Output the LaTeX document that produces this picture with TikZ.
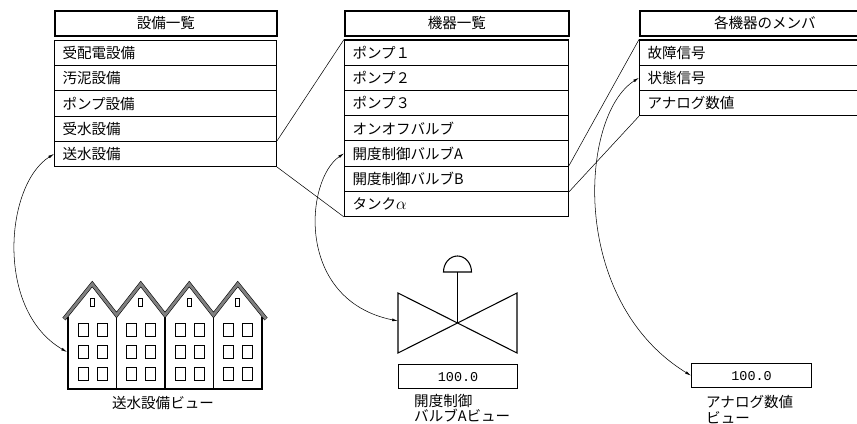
\documentclass[tikz,border=0pt]{standalone}
\usepackage{fontspec}
\setmainfont{Noto Sans CJK JP}
\newfontfamily\monofont{Liberation Mono}
\usetikzlibrary{arrows.meta}

\begin{document}
\begin{tikzpicture}[x=0.03cm,y=-0.03cm,
  every node/.style={font=\fontsize{12.4}{15}\selectfont,inner sep=0pt},
  hdr/.style={draw,line width=1.5pt,anchor=north west,minimum width=#1,minimum height=.75cm},
  row/.style={draw,line width=.9pt,anchor=north west,minimum height=.756cm,inner xsep=.24cm,text width=#1,align=left},
  link/.style={line width=.45pt},
  jump/.style={line width=.45pt,<->,>={Latex[length=5pt,width=2.4pt]}},
  valbox/.style={draw,line width=1pt,anchor=north west,minimum width=#1,minimum height=.72cm,font=\monofont\fontsize{11.5}{13}\selectfont},
  roof/.style={draw=black,line width=.5pt,double=black!50,double distance=2.4pt}]
\useasboundingbox (0,0) rectangle (857,424);
\clip (0,0) rectangle (857,424);

% three lists: plants, devices, members
\node[hdr=6.66cm] (eqhdr) at (54,10) {設備一覧};
\foreach \t [count=\i] in {受配電設備,汚泥設備,ポンプ設備,受水設備,送水設備}
  \node[row=6.18cm] (eq\i) at (54,{40+25.2*(\i-1)}) {\t};
\node[hdr=6.72cm] (devhdr) at (344,10) {機器一覧};
\foreach \t [count=\i] in {ポンプ１,ポンプ２,ポンプ３,オンオフバルブ,開度制御バルブA,開度制御バルブB,タンク{\fontsize{15}{15}\selectfont$\alpha$}}
  \node[row=6.24cm] (dev\i) at (344,{39.5+25.2*(\i-1)}) {\t};
\node[hdr=7.5cm] (memhdr) at (639,10) {各機器のメンバ};
\foreach \t [count=\i] in {故障信号,状態信号,アナログ数値}
  \node[row=7.02cm] (mem\i) at (639,{39.5+25.2*(\i-1)}) {\t};

% expansion lines
\draw[link] (eq5.north east) -- (dev1.north west);
\draw[link] (eq5.south east) -- (dev7.south west);
\draw[link] (dev6.north east) -- (mem1.north west);
\draw[link] (dev6.south east) -- (mem3.south west);

% building: four gabled houses
\foreach \i in {0,...,3} {
  \pgfmathsetmacro{\xl}{68+48.5*\i}
  \pgfmathsetmacro{\xm}{\xl+24.25}
  \draw[line width=.6pt] (\xm-2,298) rectangle +(4,8);
  \foreach \wy in {323,345,367} {
    \draw[line width=.6pt] (\xl+10,\wy) rectangle +(10,13);
    \draw[line width=.6pt] (\xl+29,\wy) rectangle +(10,13);
  }
}
\draw[line width=1pt] (68,317) -- (68,389) -- (262,389) -- (262,317);
\foreach \x in {116.5,165,213.5} \draw[line width=1pt] (\x,313) -- (\x,389);
\draw[roof] (64,319) -- (92.25,284) -- (116.5,315) -- (140.75,284) -- (165,315)
  -- (189.25,284) -- (213.5,315) -- (237.75,284) -- (266,319);
\coordinate (bldg) at (67,352);
\node (blbl) at (163,403) {送水設備ビュー};

% control valve with actuator dome
\draw[line width=.9pt] (398,293) -- (398,353) -- (517,293) -- (517,353) -- cycle;
\draw[line width=.9pt] (457.5,323) -- (457.5,272);
\draw[line width=.9pt] (443.5,272) arc[start angle=180,end angle=0,x radius=.42cm,y radius=.48cm] -- cycle;
\coordinate (valve) at (398,321);
\node[valbox=3.57cm] (vbox) at (398,364) {100.0};
\node[anchor=north west,align=left,font=\fontsize{12.4}{13}\selectfont] (vlbl) at (414,394) {開度制御\\バルブAビュー};

% analog value readout
\node[valbox=3.6cm] (abox) at (691,363) {100.0};
\node[anchor=north west,align=left,font=\fontsize{12.4}{13.5}\selectfont] (albl) at (706,395) {アナログ数値\\ビュー};

% links from list rows to views
\draw[jump] (eq5.west) .. controls (5,185) and (-5,310) .. (bldg);
\draw[jump] (dev5.west) .. controls (305,180) and (295,300) .. (valve);
\draw[jump] (mem2.west) .. controls (580,115) and (568,300) .. (abox.west);
\end{tikzpicture}
\end{document}
